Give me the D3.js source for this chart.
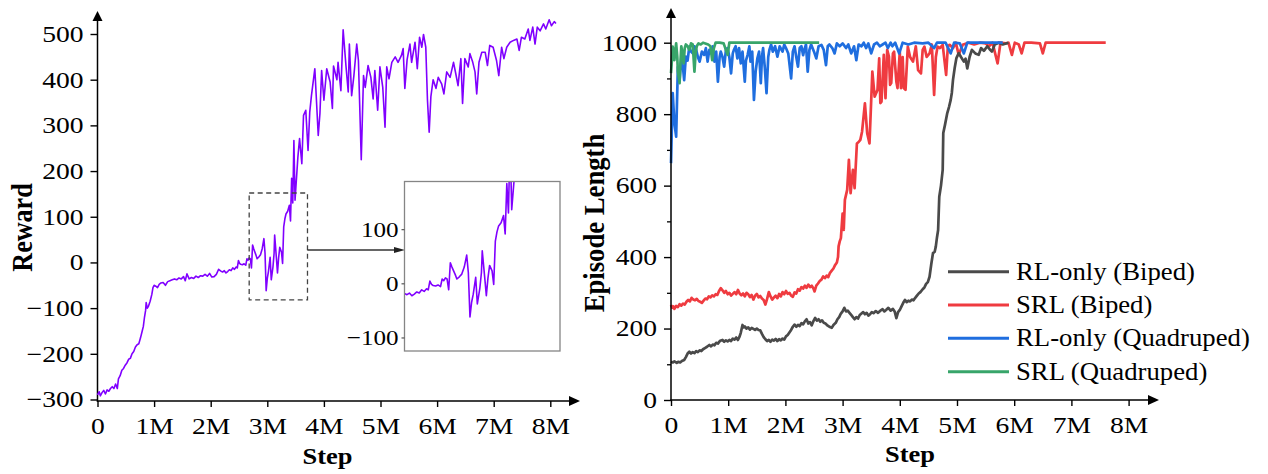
<!DOCTYPE html>
<html><head><meta charset="utf-8">
<script src="https://cdn.jsdelivr.net/npm/d3@7"></script>
<style>
html,body{margin:0;padding:0;background:#fff;}
svg{display:block;}
</style></head>
<body>
<svg id="chart" width="1268" height="474"></svg>
<script>
// ---------------- DATA ----------------
const stepTicks = [0,1,2,3,4,5,6,7,8];
const stepTickLabels = ["0","1M","2M","3M","4M","5M","6M","7M","8M"];
const rewardTicks = [-300,-200,-100,0,100,200,300,400,500];
const insetTicks = [-100,0,100];
const lengthTicks = [0,200,400,600,800,1000];
const lengthMinorTicks = [100,300,500,700,900];
const seriesNames = ["RL-only (Biped)","SRL (Biped)","RL-only (Quadruped)","SRL (Quadruped)"];

// Reward vs step (M)
const rewardSeries = [[0,-290],[0.03,-283],[0.05,-292],[0.08,-285],[0.11,-280],[0.14,-288],[0.17,-279],[0.2,-282],[0.23,-276],[0.26,-272],[0.29,-276],[0.32,-266],[0.35,-276],[0.37,-255],[0.4,-248],[0.43,-236],[0.46,-232],[0.49,-225],[0.52,-220],[0.55,-212],[0.58,-210],[0.61,-200],[0.64,-195],[0.67,-185],[0.7,-180],[0.73,-178],[0.76,-165],[0.79,-150],[0.81,-140],[0.83,-120],[0.85,-105],[0.86,-88],[0.88,-100],[0.9,-96],[0.93,-85],[0.96,-70],[0.98,-55],[1.0,-50],[1.03,-52],[1.06,-55],[1.09,-48],[1.12,-45],[1.16,-44],[1.2,-50],[1.24,-42],[1.28,-40],[1.32,-38],[1.36,-36],[1.4,-38],[1.44,-34],[1.48,-36],[1.52,-31],[1.55,-40],[1.58,-25],[1.62,-36],[1.66,-33],[1.7,-35],[1.74,-30],[1.78,-33],[1.82,-29],[1.86,-30],[1.9,-26],[1.94,-30],[1.98,-24],[2.02,-32],[2.06,-31],[2.1,-26],[2.14,-15],[2.18,-19],[2.21,-21],[2.24,-18],[2.27,-23],[2.3,-20],[2.33,-16],[2.36,-18],[2.39,-12],[2.42,-15],[2.45,-10],[2.47,-12],[2.49,4],[2.51,-2],[2.53,-4],[2.56,-5],[2.59,-3],[2.62,-6],[2.64,8],[2.66,5],[2.68,10],[2.7,8],[2.72,-12],[2.74,38],[2.76,30],[2.78,23],[2.8,16],[2.82,8],[2.85,12],[2.88,17],[2.91,30],[2.94,52],[2.96,20],[2.98,-62],[3.0,-35],[3.02,-20],[3.05,11],[3.07,-38],[3.1,-10],[3.12,20],[3.13,60],[3.16,11],[3.18,-23],[3.2,10],[3.22,33],[3.25,23],[3.27,-2],[3.29,78],[3.31,95],[3.33,106],[3.36,112],[3.39,125],[3.41,91],[3.43,184],[3.45,130],[3.47,267],[3.49,136],[3.54,230],[3.57,271],[3.61,216],[3.64,322],[3.68,333],[3.72,245],[3.75,329],[3.78,365],[3.84,424],[3.9,278],[3.93,326],[3.96,420],[4.0,355],[4.05,424],[4.11,395],[4.15,337],[4.17,430],[4.23,400],[4.25,438],[4.3,376],[4.34,509],[4.39,430],[4.43,373],[4.45,478],[4.49,365],[4.53,409],[4.58,478],[4.61,442],[4.66,225],[4.7,409],[4.73,383],[4.78,431],[4.83,405],[4.87,358],[4.9,420],[4.95,333],[4.99,428],[5.04,383],[5.08,296],[5.11,428],[5.15,402],[5.2,438],[5.26,450],[5.31,438],[5.37,453],[5.4,468],[5.43,381],[5.47,444],[5.52,478],[5.55,438],[5.61,482],[5.65,424],[5.69,493],[5.73,471],[5.76,499],[5.8,471],[5.83,355],[5.86,285],[5.89,363],[5.93,400],[5.98,381],[6.02,405],[6.08,391],[6.12,369],[6.17,417],[6.23,405],[6.29,438],[6.33,413],[6.37,387],[6.42,446],[6.45,348],[6.49,446],[6.55,428],[6.58,457],[6.63,438],[6.67,417],[6.7,369],[6.74,438],[6.79,460],[6.85,460],[6.89,431],[6.93,475],[6.99,471],[7.05,442],[7.09,409],[7.14,471],[7.18,446],[7.23,471],[7.29,482],[7.35,486],[7.41,489],[7.45,464],[7.49,493],[7.55,489],[7.61,511],[7.64,486],[7.69,515],[7.73,478],[7.77,515],[7.82,507],[7.88,522],[7.92,511],[7.98,531],[8.02,518],[8.07,527],[8.1,523]];

// zoom region (data coords) and inset domain
const zoomBoxSteps = [2.68, 3.71];
const zoomBoxRewards = [-82, 152];
const insetSteps = [2.18, 4.08];
const insetRewards = [-125, 188];

// Episode length series
const rlBiped = [[0,107],[0.03,105],[0.06,108],[0.1,104],[0.13,107],[0.16,105],[0.19,109],[0.23,112],[0.26,120],[0.29,130],[0.32,135],[0.35,130],[0.38,134],[0.41,131],[0.44,137],[0.47,134],[0.5,139],[0.53,137],[0.56,142],[0.6,146],[0.63,149],[0.67,154],[0.7,150],[0.73,155],[0.76,153],[0.79,160],[0.82,158],[0.86,166],[0.9,168],[0.93,163],[0.96,167],[0.99,164],[1.02,168],[1.05,165],[1.08,172],[1.11,169],[1.14,175],[1.17,168],[1.2,178],[1.22,188],[1.25,210],[1.27,203],[1.29,206],[1.32,200],[1.35,203],[1.38,197],[1.41,202],[1.44,199],[1.47,196],[1.5,200],[1.53,196],[1.56,195],[1.59,185],[1.62,176],[1.65,170],[1.68,165],[1.71,168],[1.74,163],[1.77,169],[1.8,166],[1.83,171],[1.86,165],[1.89,170],[1.92,167],[1.95,172],[1.98,169],[2.01,178],[2.04,182],[2.07,189],[2.1,196],[2.13,205],[2.16,211],[2.19,205],[2.22,210],[2.25,207],[2.28,215],[2.31,212],[2.34,220],[2.37,226],[2.4,214],[2.43,218],[2.46,209],[2.49,221],[2.52,230],[2.55,222],[2.58,226],[2.61,219],[2.64,223],[2.67,216],[2.7,214],[2.74,208],[2.78,204],[2.81,202],[2.84,210],[2.88,216],[2.91,226],[2.94,232],[2.97,242],[3.0,248],[3.03,258],[3.06,248],[3.09,250],[3.12,244],[3.15,238],[3.18,232],[3.21,226],[3.24,232],[3.27,228],[3.3,238],[3.33,242],[3.36,246],[3.39,240],[3.42,244],[3.45,236],[3.48,240],[3.51,246],[3.54,243],[3.58,249],[3.62,244],[3.66,250],[3.7,254],[3.73,248],[3.76,252],[3.8,258],[3.84,250],[3.88,255],[3.91,248],[3.94,229],[3.97,246],[4.0,252],[4.03,262],[4.06,272],[4.09,280],[4.12,274],[4.15,278],[4.18,276],[4.21,281],[4.24,279],[4.27,286],[4.3,292],[4.33,298],[4.36,302],[4.4,310],[4.43,315],[4.46,325],[4.49,330],[4.52,345],[4.55,380],[4.58,411],[4.61,415],[4.63,430],[4.65,455],[4.67,476],[4.69,569],[4.72,600],[4.75,644],[4.76,747],[4.79,770],[4.83,803],[4.86,820],[4.89,840],[4.91,860],[4.93,896],[4.96,930],[4.99,957],[5.03,971],[5.07,960],[5.12,947],[5.15,955],[5.18,928],[5.22,960],[5.26,980],[5.32,970],[5.38,966],[5.42,985],[5.47,977],[5.53,990],[5.58,980],[5.61,975],[5.66,995],[5.73,1000],[5.8,995],[5.9,1000]];
const srlBiped = [[0,266],[0.02,258],[0.04,262],[0.06,255],[0.09,263],[0.12,260],[0.15,268],[0.18,264],[0.21,270],[0.24,267],[0.27,275],[0.3,280],[0.33,276],[0.36,286],[0.39,281],[0.42,279],[0.45,283],[0.48,277],[0.51,275],[0.54,272],[0.57,278],[0.6,284],[0.63,282],[0.66,290],[0.69,287],[0.72,293],[0.75,290],[0.78,296],[0.81,294],[0.84,305],[0.87,313],[0.9,307],[0.93,300],[0.96,305],[0.99,296],[1.02,300],[1.05,292],[1.08,297],[1.11,302],[1.14,296],[1.17,308],[1.2,298],[1.23,293],[1.26,298],[1.29,290],[1.32,300],[1.35,296],[1.38,288],[1.41,294],[1.44,281],[1.47,292],[1.5,297],[1.53,287],[1.56,291],[1.59,284],[1.62,280],[1.65,267],[1.68,283],[1.71,302],[1.74,290],[1.77,281],[1.8,287],[1.83,292],[1.86,285],[1.89,297],[1.92,290],[1.95,302],[1.98,296],[2.01,305],[2.04,297],[2.07,300],[2.1,292],[2.13,289],[2.16,301],[2.19,298],[2.22,310],[2.25,306],[2.28,316],[2.31,312],[2.34,320],[2.37,314],[2.4,323],[2.43,316],[2.46,320],[2.49,312],[2.51,304],[2.54,320],[2.57,326],[2.6,333],[2.63,337],[2.66,346],[2.69,341],[2.72,348],[2.75,344],[2.78,356],[2.81,362],[2.84,368],[2.87,378],[2.9,385],[2.92,400],[2.93,430],[2.95,444],[2.97,453],[3.0,522],[3.02,476],[3.04,560],[3.08,588],[3.11,672],[3.14,579],[3.18,644],[3.21,593],[3.25,718],[3.28,722],[3.31,728],[3.34,751],[3.39,830],[3.43,747],[3.47,718],[3.52,919],[3.56,849],[3.61,868],[3.64,956],[3.66,831],[3.68,835],[3.72,966],[3.75,845],[3.78,980],[3.81,961],[3.83,882],[3.85,887],[3.88,970],[3.9,975],[3.94,891],[3.96,873],[4.0,975],[4.02,873],[4.05,960],[4.07,873],[4.1,868],[4.14,989],[4.18,960],[4.23,947],[4.28,990],[4.32,923],[4.37,914],[4.4,980],[4.43,989],[4.47,960],[4.52,970],[4.56,995],[4.6,854],[4.63,960],[4.66,989],[4.7,985],[4.75,994],[4.81,910],[4.84,990],[4.87,994],[4.93,985],[4.98,1000],[5.03,966],[5.1,994],[5.2,1000],[5.3,995],[5.4,1000],[5.5,998],[5.56,990],[5.62,1000],[5.71,942],[5.76,1000],[5.85,998],[5.9,1000],[5.96,966],[6.01,1000],[6.08,995],[6.13,970],[6.18,1000],[6.3,1000],[6.45,998],[6.5,970],[6.55,1000],[6.8,1000],[7.0,1000],[7.3,1000],[7.6,1000]];
const rlQuad = [[0,663],[0.03,859],[0.06,774],[0.09,737],[0.12,932],[0.15,895],[0.18,956],[0.21,930],[0.23,895],[0.26,961],[0.29,950],[0.32,989],[0.35,975],[0.38,970],[0.41,990],[0.44,980],[0.47,960],[0.5,947],[0.54,975],[0.58,966],[0.61,985],[0.64,947],[0.67,980],[0.7,970],[0.73,990],[0.76,947],[0.79,975],[0.82,891],[0.85,960],[0.87,975],[0.9,960],[0.93,933],[0.96,980],[0.99,985],[1.02,960],[1.05,914],[1.08,970],[1.1,980],[1.13,990],[1.16,956],[1.19,985],[1.22,942],[1.25,975],[1.29,891],[1.31,950],[1.34,966],[1.37,990],[1.39,947],[1.42,975],[1.45,840],[1.48,920],[1.51,956],[1.54,975],[1.57,887],[1.59,960],[1.61,985],[1.64,930],[1.67,859],[1.7,960],[1.72,980],[1.75,995],[1.78,975],[1.82,990],[1.86,961],[1.9,990],[1.95,975],[1.98,995],[2.01,985],[2.05,970],[2.1,900],[2.13,975],[2.16,990],[2.19,960],[2.22,933],[2.25,985],[2.28,990],[2.31,965],[2.33,980],[2.36,995],[2.39,919],[2.42,980],[2.45,995],[2.5,975],[2.54,956],[2.58,990],[2.63,994],[2.67,980],[2.71,937],[2.74,990],[2.77,995],[2.82,985],[2.86,970],[2.9,998],[2.95,990],[3.0,998],[3.06,985],[3.1,995],[3.15,970],[3.2,990],[3.24,951],[3.28,995],[3.33,990],[3.37,1000],[3.41,985],[3.45,998],[3.5,970],[3.55,995],[3.6,1000],[3.65,990],[3.7,995],[3.75,1000],[3.79,985],[3.84,1000],[3.87,990],[3.92,1000],[3.99,970],[4.05,1000],[4.15,995],[4.25,1000],[4.4,998],[4.5,1000],[4.6,985],[4.65,1000],[4.8,1000],[4.89,970],[4.95,1000],[5.05,998],[5.12,970],[5.18,1000],[5.3,1000],[5.5,1000],[5.8,1000]];
const srlQuad = [[0,915],[0.02,960],[0.03,989],[0.05,970],[0.06,951],[0.08,985],[0.09,998],[0.11,960],[0.12,919],[0.14,900],[0.15,887],[0.17,960],[0.18,990],[0.2,970],[0.22,942],[0.24,985],[0.26,995],[0.29,990],[0.32,980],[0.35,998],[0.38,995],[0.41,919],[0.43,970],[0.45,990],[0.48,998],[0.52,995],[0.56,1000],[0.6,998],[0.65,995],[0.69,990],[0.72,951],[0.75,985],[0.78,1000],[0.85,1000],[0.92,998],[0.99,966],[1.02,1000],[1.1,1000],[1.3,1000],[1.6,1000],[2.0,1000],[2.3,1000],[2.59,1000]];

// ---------------- DRAW ----------------
const FONT = "'Liberation Serif','Times New Roman',Times,serif";
const svg = d3.select("#chart");
const colors = ["#4a4a4a","#ef3b40","#1f6edf","#38a56a"];

function arrowUp(g, x, tipY){
  g.append("path").attr("d",`M${x},${tipY} L${x-5},${tipY+10} L${x+5},${tipY+10} Z`).attr("fill","#000");
}
function arrowRight(g, tipX, y){
  g.append("path").attr("d",`M${tipX},${y} L${tipX-11},${y-5} L${tipX-11},${y+5} Z`).attr("fill","#000");
}
function styleAxis(g, kind, sx, fs){
  g.select(".domain").remove();
  g.selectAll(".tick line").attr("stroke","#000").attr("stroke-width",1.4);
  const t = g.selectAll(".tick text").attr("font-family",FONT).attr("font-size",fs).attr("fill","#000");
  if(kind==="left"){
    t.attr("x",-14/sx).attr("dy","0.32em").attr("transform",`scale(${sx},1)`);
  } else {
    t.attr("y",33).attr("dy",0).attr("transform",`scale(${sx},1)`);
  }
}

// ---------- Left chart ----------
const L = svg.append("g");
const xL = d3.scaleLinear().domain([0,8]).range([97.5, 97.5+8*56.6]);
const yL = d3.scaleLinear().domain([-300,500]).range([399.5,34]);
const axisYL = L.append("g").attr("transform","translate(97.5,0)")
  .call(d3.axisLeft(yL).tickValues(rewardTicks).tickSize(7).tickFormat(d3.format("d")));
styleAxis(axisYL,"left",1.2,23);
const axisXL = L.append("g").attr("transform","translate(0,401)")
  .call(d3.axisBottom(xL).tickValues(stepTicks).tickSize(6).tickFormat((d,i)=>stepTickLabels[i]));
styleAxis(axisXL,"bottom",1.2,23);
L.append("line").attr("x1",97.5).attr("x2",97.5).attr("y1",401.7).attr("y2",18).attr("stroke","#000").attr("stroke-width",1.5);
L.append("line").attr("x1",96.8).attr("x2",572).attr("y1",401).attr("y2",401).attr("stroke","#000").attr("stroke-width",1.5);
arrowUp(L,97.5,11);
arrowRight(L,580,401);

const lineL = d3.line().x(d=>xL(d[0])).y(d=>yL(d[1]));
L.append("path").datum(rewardSeries).attr("d",lineL).attr("fill","none")
  .attr("stroke","#8000ff").attr("stroke-width",1.6).attr("stroke-linejoin","round");

// zoom box
const bx0 = xL(zoomBoxSteps[0]), bx1 = xL(zoomBoxSteps[1]);
const by0 = yL(zoomBoxRewards[1]), by1 = yL(zoomBoxRewards[0]);
L.append("rect").attr("x",bx0).attr("y",by0).attr("width",bx1-bx0).attr("height",by1-by0)
  .attr("fill","none").attr("stroke","#444").attr("stroke-width",1.3).attr("stroke-dasharray","5,3.5");

// inset
const ix = d3.scaleLinear().domain(insetSteps).range([404.5,560]);
const iy = d3.scaleLinear().domain(insetRewards).range([351,181.5]);
const arrowY = 250;
L.append("line").attr("x1",bx1).attr("x2",396).attr("y1",arrowY).attr("y2",arrowY).attr("stroke","#333").attr("stroke-width",1.3);
L.append("path").attr("d",`M405,${arrowY} L394,${arrowY-3} L394,${arrowY+3} Z`).attr("fill","#222");

svg.append("defs").append("clipPath").attr("id","insetClip").append("rect")
  .attr("x",404.5).attr("y",181.5).attr("width",155.5).attr("height",169.5);
L.append("path").datum(rewardSeries).attr("d",d3.line().x(d=>ix(d[0])).y(d=>iy(d[1])))
  .attr("clip-path","url(#insetClip)").attr("fill","none")
  .attr("stroke","#8000ff").attr("stroke-width",1.6).attr("stroke-linejoin","round");
L.append("rect").attr("x",404.5).attr("y",181.5).attr("width",155.5).attr("height",169.5)
  .attr("fill","none").attr("stroke","#858585").attr("stroke-width",1.3);
const axisInset = L.append("g").attr("transform","translate(404.5,0)")
  .call(d3.axisLeft(iy).tickValues(insetTicks).tickSize(3).tickFormat(d3.format("d")));
axisInset.select(".domain").remove();
axisInset.selectAll(".tick line").attr("stroke","#555").attr("stroke-width",1.2);
axisInset.selectAll(".tick text").attr("font-family",FONT).attr("font-size",22).attr("fill","#000")
  .attr("x",-6/1.14).attr("dy","0.32em").attr("transform","scale(1.14,1)");

// titles
L.append("text").attr("x",327.5/1.15).attr("y",464).attr("transform","scale(1.15,1)")
  .attr("text-anchor","middle").attr("font-family",FONT).attr("font-weight","bold").attr("font-size",23).text("Step");
L.append("text").attr("transform","translate(32,227.5) rotate(-90) scale(0.9,1)")
  .attr("text-anchor","middle").attr("font-family",FONT).attr("font-weight","bold").attr("font-size",29).text("Reward");

// ---------- Right chart ----------
const R = svg.append("g");
const xR = d3.scaleLinear().domain([0,8]).range([671, 671+8*57.2]);
const yR = d3.scaleLinear().domain([0,1000]).range([400,42.7]);
const axisYR = R.append("g").attr("transform","translate(671,0)")
  .call(d3.axisLeft(yR).tickValues(lengthTicks).tickSize(7).tickFormat(d3.format("d")));
styleAxis(axisYR,"left",1.2,23);
R.append("g").attr("transform","translate(671,0)")
  .call(d3.axisLeft(yR).tickValues(lengthMinorTicks).tickSize(4).tickFormat(""))
  .call(g=>{g.select(".domain").remove(); g.selectAll("line").attr("stroke","#000").attr("stroke-width",1.3);});
const axisXR = R.append("g").attr("transform","translate(0,400)")
  .call(d3.axisBottom(xR).tickValues(stepTicks).tickSize(6).tickFormat((d,i)=>stepTickLabels[i]));
styleAxis(axisXR,"bottom",1.2,23);

const lineR = d3.line().x(d=>xR(d[0])).y(d=>yR(d[1]));
const seriesR = [rlBiped, srlBiped, rlQuad, srlQuad];
[1,0,2,3].forEach(i=>{
  R.append("path").datum(seriesR[i]).attr("d",lineR).attr("fill","none")
    .attr("stroke",colors[i]).attr("stroke-width",2.7).attr("stroke-linejoin","round");
});
R.append("line").attr("x1",671).attr("x2",671).attr("y1",400.7).attr("y2",15).attr("stroke","#000").attr("stroke-width",1.5);
R.append("line").attr("x1",670.3).attr("x2",1150).attr("y1",400).attr("y2",400).attr("stroke","#000").attr("stroke-width",1.5);
arrowUp(R,671,8);
arrowRight(R,1159,400);

// legend
const legY = [271.7,305,338.3,371.7];
seriesNames.forEach((name,i)=>{
  R.append("line").attr("x1",948).attr("x2",1009).attr("y1",legY[i]).attr("y2",legY[i])
    .attr("stroke",colors[i]).attr("stroke-width",3);
  R.append("text").attr("x",1016/1.07).attr("y",legY[i]+8).attr("transform","scale(1.07,1)")
    .attr("font-family",FONT).attr("font-size",25).attr("fill","#000").text(name);
});

R.append("text").attr("x",910/1.15).attr("y",462).attr("transform","scale(1.15,1)")
  .attr("text-anchor","middle").attr("font-family",FONT).attr("font-weight","bold").attr("font-size",23).text("Step");
R.append("text").attr("transform","translate(604,223) rotate(-90) scale(0.92,1)")
  .attr("text-anchor","middle").attr("font-family",FONT).attr("font-weight","bold").attr("font-size",29).text("Episode Length");
</script>
</body></html>
